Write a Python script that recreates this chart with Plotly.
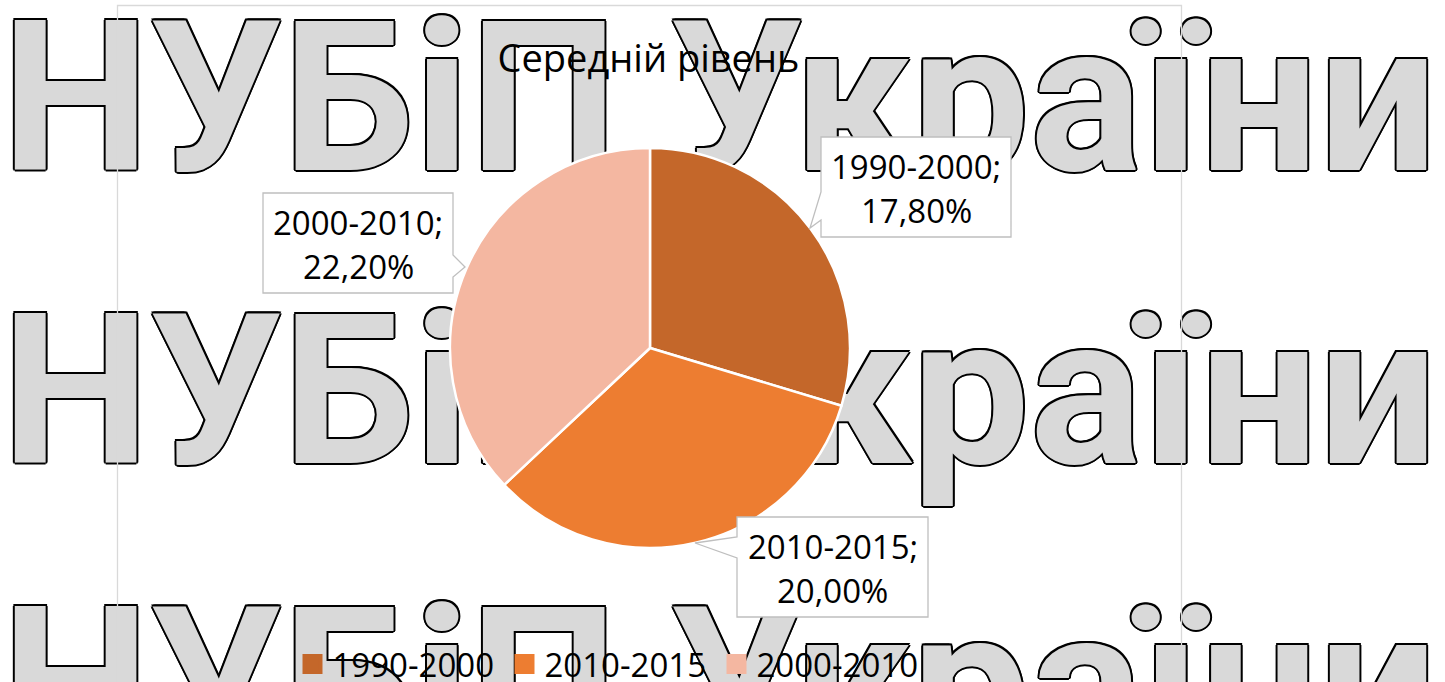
import plotly.graph_objects as go

# ---- data ----
categories = ["1990-2000", "2010-2015", "2000-2010"]
values = [17.8, 20.0, 22.2]
slice_colors = ["#C4672A", "#ED7D31", "#F4B7A1"]
title_text = "Середній рівень"
watermark_text = "НУБіП України"

# ---- layout helpers (pixel canvas) ----
W, H = 1445, 682
FONT = "Open Sans"

fig = go.Figure()

# watermark rows (hidden pixel-scaled cartesian axis, drawn below the pie)
wm_rows_y = [117, 410, 703]
outline = ("2px 0 0 #000, -2px 0 0 #000, 0 2px 0 #000, 0 -2px 0 #000, "
           "1.5px 1.5px 0 #000, -1.5px 1.5px 0 #000, 1.5px -1.5px 0 #000, -1.5px -1.5px 0 #000")
fig.add_trace(go.Scatter(
    x=[719.5] * len(wm_rows_y), y=wm_rows_y, mode="text",
    text=[watermark_text] * len(wm_rows_y), textposition="middle center",
    textfont=dict(family="Roboto", size=210, color="#D9D9D9", weight="bold", shadow=outline),
    hoverinfo="skip", showlegend=False,
))

# pie
cx, cy, r = 650, 348, 200
fig.add_trace(go.Pie(
    labels=categories, values=values, sort=False, direction="clockwise", rotation=0,
    marker=dict(colors=slice_colors, line=dict(color="white", width=2.5)),
    textinfo="none", showlegend=False,
    domain=dict(x=[(cx - r) / W, (cx + r) / W], y=[1 - (cy + r) / H, 1 - (cy - r) / H]),
))

# legend entries (square swatches)
for c, col in zip(categories, slice_colors):
    fig.add_trace(go.Scatter(
        x=[None], y=[None], mode="markers", name=c,
        marker=dict(symbol="square", size=16, color=col, line=dict(width=4, color=col)),
        showlegend=True, hoverinfo="skip",
    ))

# callout label boxes (pixel coords): box rect + tail
boxes = {
    "1990-2000": ((821, 137, 1011, 237), "left", (192, (810, 228), 220)),
    "2010-2015": ((737, 517, 928, 617), "left", (537, (695, 543), 558)),
    "2000-2010": ((263, 193, 453, 293), "right", (255, (465, 267), 277)),
}
shapes = []
for c in categories:
    (x0, y0, x1, y1), side, (ta, tip, tb) = boxes[c]
    if side == "left":
        path = (f"M{x0},{y0} L{x1},{y0} L{x1},{y1} L{x0},{y1} L{x0},{tb} "
                f"L{tip[0]},{tip[1]} L{x0},{ta} Z")
    else:
        path = (f"M{x0},{y0} L{x1},{y0} L{x1},{ta} L{tip[0]},{tip[1]} L{x1},{tb} "
                f"L{x1},{y1} L{x0},{y1} Z")
    shapes.append(dict(type="path", path=path, xref="x", yref="y", layer="above",
                       fillcolor="white", line=dict(color="#BFBFBF", width=1.3)))

# chart frame
shapes.append(dict(type="rect", xref="x", yref="y", x0=117.5, x1=1181.5, y0=5.5, y1=720,
                   layer="above", line=dict(color="#D9D9D9", width=1.3),
                   fillcolor="rgba(0,0,0,0)"))

annotations = []
for c, v in zip(categories, values):
    (x0, y0, x1, y1), _, _ = boxes[c]
    mx = (x0 + x1) / 2
    my = (y0 + y1) / 2
    lines = [f"{c};", f"{v:.2f}%".replace(".", ",")]
    for i, t in enumerate(lines):
        annotations.append(dict(x=mx, y=my - 21 + 44 * i, xref="x", yref="y", text=t,
                                showarrow=False, xanchor="center", yanchor="middle",
                                font=dict(family=FONT, size=33, color="black")))

fig.update_layout(
    width=W, height=H, autosize=False,
    margin=dict(l=0, r=0, t=0, b=0, autoexpand=False),
    paper_bgcolor="white", plot_bgcolor="white",
    xaxis=dict(range=[0, W], visible=False, domain=[0, 1], fixedrange=True),
    yaxis=dict(range=[H, 0], visible=False, domain=[0, 1], fixedrange=True),
    title=dict(text=title_text, x=648.5 / W, xanchor="center", y=1 - 58.5 / H, yanchor="middle",
               font=dict(family=FONT, size=38, color="black")),
    legend=dict(orientation="h", x=610.5 / W, xanchor="center", y=1 - 664 / H, yanchor="middle",
                entrywidth=167, entrywidthmode="pixels",
                bgcolor="rgba(0,0,0,0)", font=dict(family=FONT, size=33, color="black"),
                itemclick=False, itemdoubleclick=False),
    shapes=shapes, annotations=annotations,
)

fig.write_html("out.html", config={"displayModeBar": False},
               post_script="document.body.style.margin='0';")
